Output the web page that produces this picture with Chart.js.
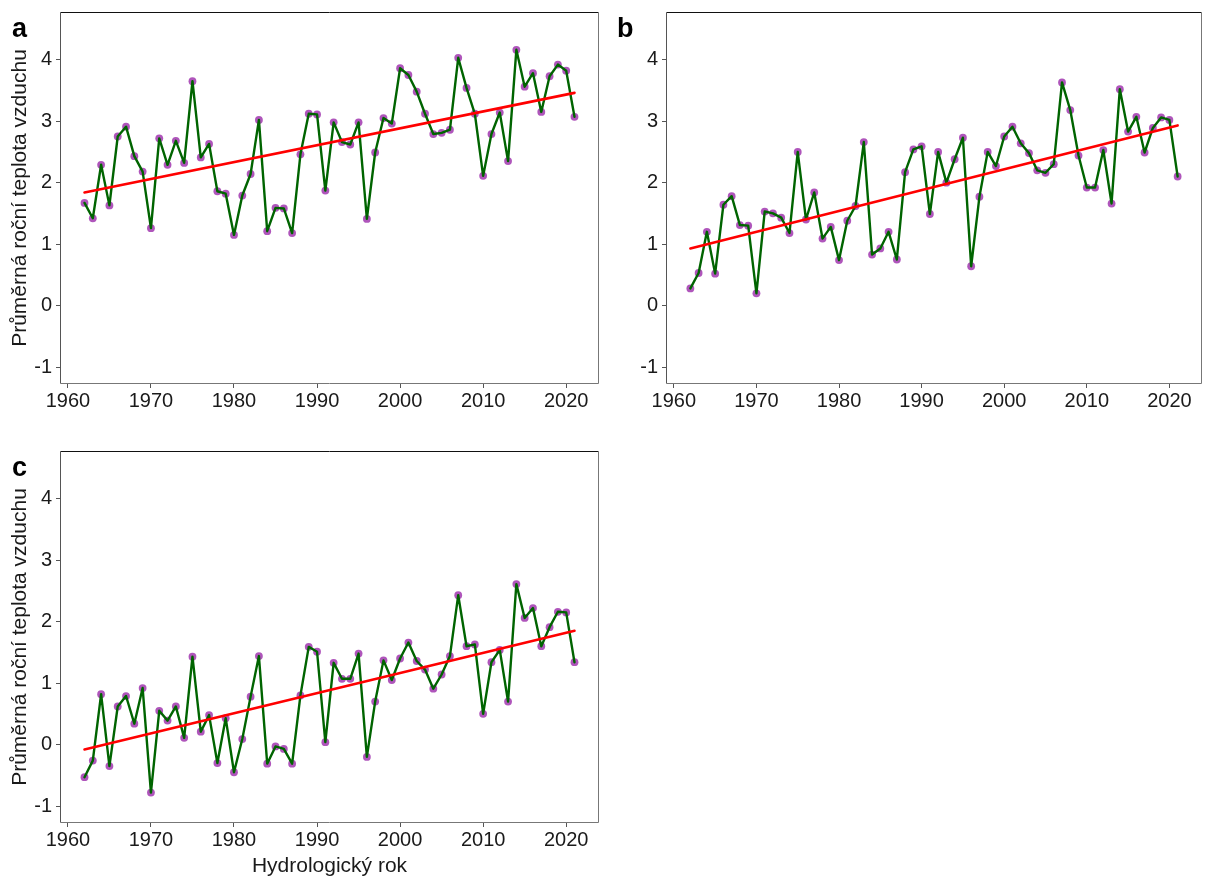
<!DOCTYPE html>
<html>
<head>
<meta charset="utf-8">
<script src="https://cdn.jsdelivr.net/npm/chart.js@4.4.1/dist/chart.umd.min.js"></script>
<style>
  html, body { margin: 0; padding: 0; background: #fff; }
  body { width: 1206px; height: 877px; position: relative; overflow: hidden; }
  canvas { position: absolute; display: block; }
</style>
</head>
<body>
<canvas id="panelA" width="603" height="420" style="left:0;top:0"></canvas>
<canvas id="panelB" width="603" height="420" style="left:603px;top:0"></canvas>
<canvas id="panelC" width="603" height="438" style="left:0;top:439px"></canvas>
<script>
// Hydrological years
const years = [1962, 1963, 1964, 1965, 1966, 1967, 1968, 1969, 1970, 1971,
               1972, 1973, 1974, 1975, 1976, 1977, 1978, 1979, 1980, 1981,
               1982, 1983, 1984, 1985, 1986, 1987, 1988, 1989, 1990, 1991,
               1992, 1993, 1994, 1995, 1996, 1997, 1998, 1999, 2000, 2001,
               2002, 2003, 2004, 2005, 2006, 2007, 2008, 2009, 2010, 2011,
               2012, 2013, 2014, 2015, 2016, 2017, 2018, 2019, 2020, 2021];

// Mean annual air temperature (°C), panel a
const tempA = [1.67, 1.42, 2.29, 1.63, 2.75, 2.91, 2.43, 2.18, 1.26, 2.72,
               2.29, 2.68, 2.32, 3.65, 2.41, 2.63, 1.86, 1.82, 1.15, 1.79,
               2.14, 3.02, 1.21, 1.59, 1.58, 1.18, 2.46, 3.12, 3.11, 1.87,
               2.98, 2.66, 2.62, 2.98, 1.41, 2.49, 3.05, 2.96, 3.86, 3.75,
               3.48, 3.12, 2.79, 2.81, 2.86, 4.03, 3.54, 3.12, 2.11, 2.79,
               3.14, 2.35, 4.16, 3.56, 3.78, 3.15, 3.73, 3.92, 3.82, 3.07];

// panel b
const tempB = [0.28, 0.53, 1.20, 0.52, 1.64, 1.78, 1.31, 1.30, 0.20, 1.53,
               1.50, 1.43, 1.18, 2.50, 1.40, 1.84, 1.09, 1.28, 0.74, 1.38,
               1.62, 2.66, 0.83, 0.93, 1.20, 0.75, 2.17, 2.54, 2.59, 1.49,
               2.50, 2.00, 2.38, 2.73, 0.64, 1.77, 2.50, 2.27, 2.75, 2.91,
               2.64, 2.48, 2.20, 2.16, 2.30, 3.63, 3.18, 2.44, 1.92, 1.92,
               2.53, 1.66, 3.52, 2.83, 3.07, 2.49, 2.89, 3.06, 3.02, 2.10];

// panel c
const tempC = [-0.53, -0.26, 0.82, -0.35, 0.62, 0.79, 0.34, 0.92, -0.78, 0.55,
               0.39, 0.62, 0.11, 1.43, 0.21, 0.48, -0.30, 0.43, -0.45, 0.09,
               0.78, 1.44, -0.31, -0.03, -0.07, -0.31, 0.80, 1.59, 1.51, 0.04,
               1.33, 1.07, 1.07, 1.48, -0.20, 0.70, 1.37, 1.05, 1.40, 1.66,
               1.36, 1.22, 0.91, 1.14, 1.44, 2.43, 1.60, 1.63, 0.50, 1.34,
               1.54, 0.70, 2.61, 2.06, 2.22, 1.60, 1.91, 2.16, 2.15, 1.34];

// Linear trend end points (first and last year)
const trendYears = [1962, 2021];
const trendA = [1.84, 3.46];
const trendB = [0.93, 2.93];
const trendC = [-0.08, 1.85];

// Tick labels
const xTicks = [1960, 1970, 1980, 1990, 2000, 2010, 2020];
const yTicks = [-1, 0, 1, 2, 3, 4];

const yTitle = 'Průměrná roční teplota vzduchu';
const xTitle = 'Hydrologický rok';

const FONT = "'Liberation Sans', Arial, sans-serif";
const X_MIN = 1959.05, X_MAX = 2023.95;
const Y_MIN = -1.275, Y_MAX = 4.775;

function toPoints(xs, ys) {
  return xs.map((x, i) => ({ x: x, y: ys[i] }));
}

// Panel frame and panel letter
const panelDecor = {
  id: 'panelDecor',
  afterDraw(chart, args, opts) {
    const { ctx, chartArea: a } = chart;
    const l = Math.round(a.left) + 0.5, r = Math.round(a.right) - 0.5;
    const t = Math.round(a.top) + 0.5, b = Math.round(a.bottom) - 0.5;
    ctx.save();
    ctx.lineWidth = 1;
    const seg = (x1, y1, x2, y2, c) => {
      ctx.strokeStyle = c;
      ctx.beginPath(); ctx.moveTo(x1, y1); ctx.lineTo(x2, y2); ctx.stroke();
    };
    seg(l, t, r, t, '#111');
    seg(l, t, l, b, '#555');
    seg(r, t, r, b, '#777');
    seg(l, b, r, b, '#777');
    ctx.fillStyle = '#000';
    ctx.font = "bold 27px " + FONT;
    ctx.textBaseline = 'alphabetic';
    ctx.textAlign = 'left';
    ctx.fillText(opts.letter, opts.lx, opts.ly);
    ctx.restore();
  }
};

function makePanel(id, values, trend, cfg) {
  new Chart(document.getElementById(id), {
    type: 'line',
    data: {
      datasets: [
        { data: toPoints(trendYears, trend), borderColor: '#ff0000', borderWidth: 2.6,
          pointRadius: 0, tension: 0, order: 0, borderCapStyle: 'round' },
        { data: toPoints(years, values), borderColor: '#006400', borderWidth: 2.4,
          pointRadius: 0, tension: 0, order: 1,
          borderJoinStyle: 'round', borderCapStyle: 'round' },
        { data: toPoints(years, values), showLine: false, pointRadius: 3.9,
          pointBackgroundColor: 'rgba(166, 66, 180, 0.9)', pointBorderWidth: 0, order: 2 }
      ]
    },
    options: {
      responsive: false,
      animation: false,
      events: [],
      layout: { padding: { left: 0, top: 12, right: cfg.right, bottom: 0 } },
      plugins: {
        legend: { display: false },
        tooltip: { enabled: false },
        panelDecor: { letter: cfg.letter, lx: cfg.lx, ly: 37 }
      },
      scales: {
        x: {
          type: 'linear', min: X_MIN, max: X_MAX,
          afterBuildTicks: s => { s.ticks = xTicks.map(v => ({ value: v })); },
          afterFit: s => { s.height = cfg.xh; s.paddingLeft = 0; s.paddingRight = 0; },
          ticks: { color: '#1a1a1a', font: { family: FONT, size: 20 }, padding: 1,
                   maxRotation: 0, autoSkip: false, callback: v => String(v) },
          grid: { drawOnChartArea: false, tickLength: 4, color: '#555', lineWidth: 1 },
          border: { display: false },
          title: cfg.xTitle ? { display: true, text: xTitle, color: '#1a1a1a',
                   font: { family: FONT, size: 21, lineHeight: 1 }, padding: { top: 1, bottom: 0 } }
                 : { display: false }
        },
        y: {
          type: 'linear', min: Y_MIN, max: Y_MAX,
          afterBuildTicks: s => { s.ticks = yTicks.map(v => ({ value: v })); },
          afterFit: s => { s.width = cfg.yw; s.paddingTop = 0; s.paddingBottom = 0; },
          ticks: { color: '#1a1a1a', font: { family: FONT, size: 20 }, padding: 4,
                   callback: v => String(v) },
          grid: { drawOnChartArea: false, tickLength: 4, color: '#555', lineWidth: 1 },
          border: { display: false },
          title: cfg.yTitle ? { display: true, text: yTitle, color: '#1a1a1a',
                   font: { family: FONT, size: 21, lineHeight: 1 }, padding: { top: 10, bottom: 0 } }
                 : { display: false }
        }
      }
    },
    plugins: [panelDecor]
  });
}

makePanel('panelA', tempA, trendA, { letter: 'a', lx: 12, right: 2, yw: 60, xh: 36, yTitle: true, xTitle: false });
makePanel('panelB', tempB, trendB, { letter: 'b', lx: 14, right: 1, yw: 63, xh: 36, yTitle: false, xTitle: false });
makePanel('panelC', tempC, trendC, { letter: 'c', lx: 12, right: 2, yw: 60, xh: 54, yTitle: true, xTitle: true });
</script>
</body>
</html>
